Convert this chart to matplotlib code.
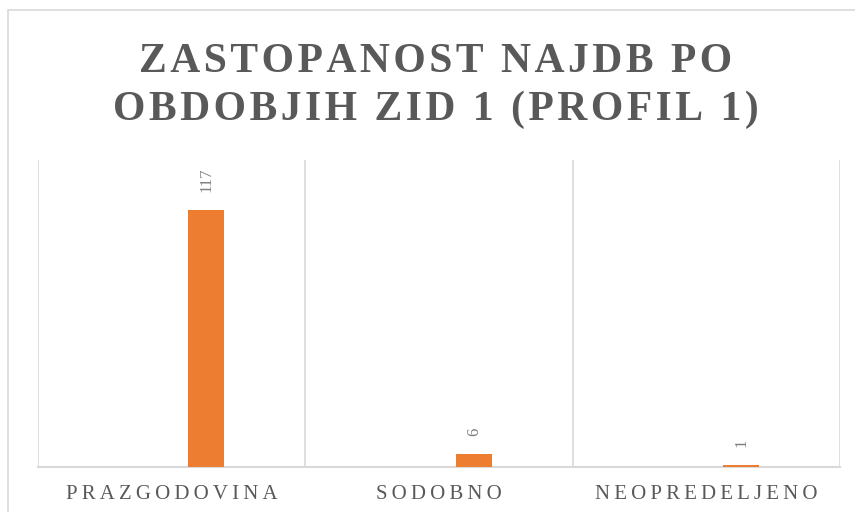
import matplotlib
matplotlib.use("Agg")
import matplotlib.pyplot as plt
from matplotlib.patches import Rectangle

categories = ["PRAZGODOVINA", "SODOBNO", "NEOPREDELJENO"]
values = [117, 6, 1]
title_lines = ["ZASTOPANOST NAJDB PO", "OBDOBJIH ZID 1 (PROFIL 1)"]

def spaced(s, sep="\u200a"):
    return sep.join(s)

W, H = 855, 512
fig = plt.figure(figsize=(W / 100, H / 100), dpi=100)
fig.patch.set_facecolor("white")

# outer chart border
fig.add_artist(Rectangle((8 / W, -0.05), 1.1, (H - 10) / H + 0.05, transform=fig.transFigure,
                         fill=False, edgecolor="#d9d9d9", linewidth=1.2))

ax = fig.add_axes([38 / W, 1 - 467 / H, (840 - 38) / W, (467 - 160) / H])
x = list(range(len(categories)))
bw = 0.135
off = 0.13
bars = ax.bar([i + off for i in x], values, width=bw, color="#ED7D31", zorder=3)
ax.set_xlim(-0.5, len(categories) - 0.5)
ax.set_ylim(0, 140)

for b, v in zip(bars, values):
    ax.annotate(str(v), (b.get_x() + b.get_width() / 2, b.get_height()),
                xytext=(0, 13), textcoords="offset points", rotation=90,
                ha="center", va="bottom", fontsize=12, color="#7f7f7f",
                family="Liberation Serif")

for s in ["top", "right", "left"]:
    ax.spines[s].set_visible(False)
ax.spines["bottom"].set_color("#d9d9d9")
ax.spines["bottom"].set_linewidth(1.5)
for xb in [-0.5, 0.5, 1.5, 2.5]:
    ax.axvline(xb, color="#d9d9d9", linewidth=1.2, zorder=1)

ax.set_yticks([])
ax.set_xticks(x)
ax.set_xticklabels([spaced(c, "\u2009") for c in categories], family="Liberation Serif",
                   fontsize=15, color="#595959")
ax.tick_params(axis="x", length=0, pad=13)

fig.text(436 / W, 1 - 72 / H, spaced(title_lines[0]), ha="center", va="baseline",
         fontsize=30, fontweight="bold", color="#595959", family="Liberation Serif")
fig.text(436 / W, 1 - 120 / H, spaced(title_lines[1]), ha="center", va="baseline",
         fontsize=30, fontweight="bold", color="#595959", family="Liberation Serif")

fig.savefig("out.png", dpi=100)
